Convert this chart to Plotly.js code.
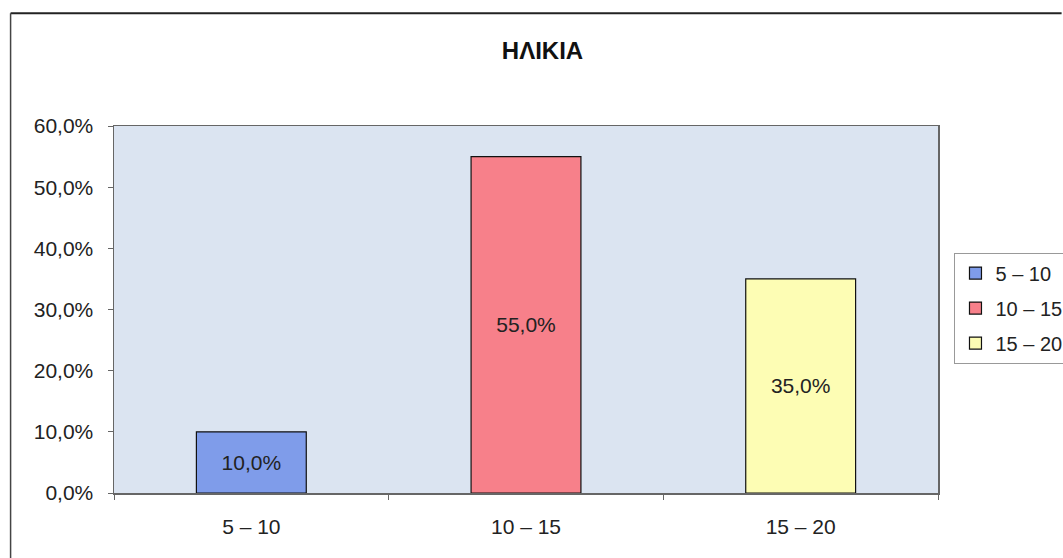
<!DOCTYPE html>
<html>
<head>
<meta charset="utf-8">
<script src="https://cdn.plot.ly/plotly-3.0.1.min.js"></script>
<style>html,body{margin:0;padding:0;background:#fff;}#chart{width:1063px;height:558px;}</style>
</head>
<body>
<div id="chart"></div>
<script>
const categories = ["5 – 10", "10 – 15", "15 – 20"];
const values = [0.10, 0.55, 0.35];
const colors = ["#7f9cea", "#f7808a", "#fdfdb4"];
const titleText = "ΗΛΙΚΙΑ";

const traces = categories.map((c, i) => ({
  type: "bar",
  name: c,
  legendgroup: "g" + i,
  x: [c],
  y: [values[i]],
  marker: {color: colors[i], line: {color: "#111", width: 1.2}},
  texttemplate: "%{y:.1%}",
  textposition: "inside",
  insidetextanchor: "middle",
  textangle: 0,
  textfont: {family: "Liberation Sans, Arial, sans-serif", size: 21, color: "#222"},
  hoverinfo: "skip"
}));

const layout = {
  width: 1063, height: 558,
  margin: {l: 114, r: 125, t: 126, b: 65, autoexpand: false},
  paper_bgcolor: "#ffffff",
  plot_bgcolor: "#dbe4f1",
  separators: ",.",
  barmode: "overlay",
  bargap: 0.6,
  title: {text: "<b>" + titleText + "</b>", x: 0.52, xref: "paper", xanchor: "center", y: 0.91, yanchor: "middle",
    font: {family: "Liberation Sans, Arial, sans-serif", size: 24, color: "#111"}},
  font: {family: "Liberation Sans, Arial, sans-serif", size: 21, color: "#222"},
  xaxis: {
    type: "category", categoryarray: categories,
    showline: true, linecolor: "#666", linewidth: 1.5, mirror: true,
    ticks: "outside", tickson: "boundaries", ticklen: 5, tickcolor: "#666",
    ticklabelstandoff: 14,
    tickfont: {size: 21, color: "#222"}, showgrid: false
  },
  yaxis: {
    range: [0, 0.6], dtick: 0.1, tickformat: ".1%",
    showline: true, linecolor: "#666", linewidth: 1.5, mirror: true,
    ticks: "outside", ticklen: 5, tickcolor: "#666",
    ticklabelstandoff: 10,
    tickfont: {size: 21, color: "#222"}, showgrid: false, zeroline: false
  },
  legend: {
    x: 1.02, xanchor: "left", y: 0.655, yanchor: "top",
    bordercolor: "#999", borderwidth: 1, bgcolor: "#fff",
    font: {size: 20, color: "#222"}, tracegroupgap: 6,
    traceorder: "grouped", itemwidth: 30
  },
  showlegend: true,
  shapes: [
    {type: "line", xref: "paper", yref: "paper", x0: -0.1255, x1: 1.15, y0: 1.307, y1: 1.307, line: {color: "#222", width: 2}},
    {type: "line", xref: "paper", yref: "paper", x0: -0.1255, x1: -0.1255, y0: 1.307, y1: -0.2, line: {color: "#444", width: 1.5}}
  ]
};

Plotly.newPlot("chart", traces, layout, {displayModeBar: false, staticPlot: true});
</script>
</body>
</html>
